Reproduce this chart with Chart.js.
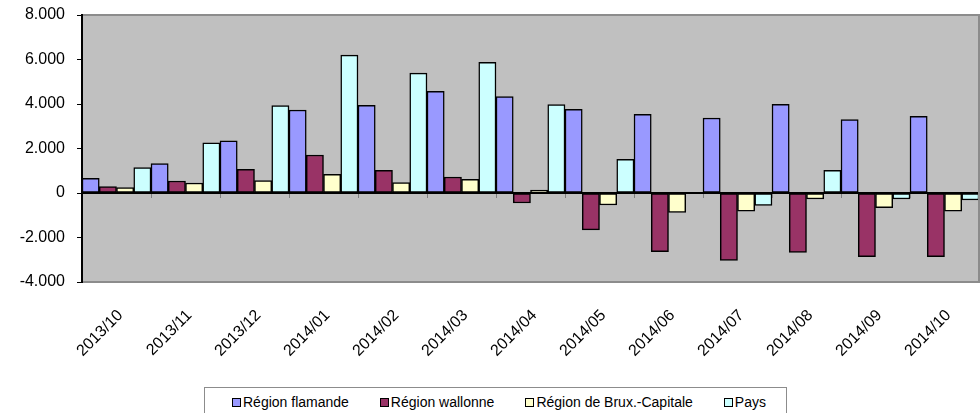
<!DOCTYPE html>
<html>
<head>
<meta charset="utf-8">
<script src="https://cdn.jsdelivr.net/npm/chart.js@4"></script>
<style>
body { margin: 0; width: 980px; height: 413px; overflow: hidden; background: #fff; position: relative; font-family: 'Liberation Sans', Arial, sans-serif; }
#wrap { position: absolute; left: 0; top: 0; width: 980px; height: 386px; }
#legend { position: absolute; left: 204px; top: 387px; width: 583px; height: 30px; border: 1px solid #8c8c8c; box-sizing: border-box;
  display: flex; align-items: center; padding: 0 0 0 27px; font-size: 14px; color: #000; }
#legend .item { display: flex; align-items: center; margin-right: 31px; white-space: nowrap; }
#legend .box { width: 9px; height: 9px; border: 1.5px solid #000; box-sizing: border-box; margin-right: 2px; }
</style>
</head>
<body>
<div id="wrap"><canvas id="balance-chart"></canvas></div>
<div id="legend"></div>
<script>
var months = ['2013/10', '2013/11', '2013/12', '2014/01', '2014/02', '2014/03', '2014/04', '2014/05', '2014/06', '2014/07', '2014/08', '2014/09', '2014/10'];
var flamande = [660, 1320, 2350, 3730, 3940, 4570, 4330, 3760, 3540, 3370, 3990, 3300, 3450];
var wallonne = [283, 540, 1065, 1708, 1020, 719, -450, -1660, -2640, -3030, -2670, -2860, -2860];
var bruxelles = [240, 450, 553, 840, 463, 615, 135, -540, -870, -820, -270, -660, -820];
var pays = [1140, 2260, 3925, 6200, 5390, 5870, 3970, 1510, -20, -555, 1020, -270, -315];
var seriesNames = ['Région flamande', 'Région wallonne', 'Région de Brux.-Capitale', 'Pays'];
var seriesColors = ['#9999ff', '#993366', '#ffffcc', '#ccffff'];

function fmt(v) {
    return String(v).replace(/\B(?=(\d{3})+(?!\d))/g, '.');
}

// grey plot area, frame and the little category ticks on the zero line
var plotArea = {
    id: 'plotArea',
    beforeDatasetsDraw: function(chart) {
        var a = chart.chartArea, c = chart.ctx;
        c.save();
        c.fillStyle = '#c0c0c0';
        c.fillRect(a.left, a.top, a.right - a.left, a.bottom - a.top);
        c.restore();
    },
    afterDatasetsDraw: function(chart) {
        var a = chart.chartArea, c = chart.ctx;
        var x = chart.scales.x, y = chart.scales.y;
        var y0 = y.getPixelForValue(0);
        var step = (a.right - a.left) / months.length;
        c.save();
        c.strokeStyle = '#000';
        c.lineWidth = 2;
        c.beginPath();
        c.moveTo(a.left, y0);
        c.lineTo(a.right, y0);
        c.stroke();
        c.strokeStyle = '#808080';
        c.lineWidth = 1;
        for (var i = 1; i < months.length; i++) {
            var px = Math.round(x.getPixelForValue(i) - step / 2) + 0.5;
            c.beginPath();
            c.moveTo(px, y0 + 1);
            c.lineTo(px, y0 + 5);
            c.stroke();
        }
        c.strokeStyle = '#8c8c8c';
        c.lineWidth = 2;
        c.beginPath();
        c.moveTo(a.left, a.top);
        c.lineTo(a.right, a.top);
        c.lineTo(a.right, a.bottom);
        c.lineTo(a.left, a.bottom);
        c.stroke();
        c.strokeStyle = '#000';
        c.beginPath();
        c.moveTo(a.left, a.top - 1);
        c.lineTo(a.left, a.bottom + 1);
        c.stroke();
        c.restore();
    }
};

var values = [flamande, wallonne, bruxelles, pays];
var datasets = values.map(function(d, i) {
    return {
        label: seriesNames[i],
        data: d,
        backgroundColor: seriesColors[i],
        borderColor: '#000',
        borderWidth: 1.5,
        borderSkipped: false
    };
});

var ctx = document.getElementById('balance-chart').getContext('2d');
var chart = new Chart(ctx, {
    type: 'bar',
    data: { labels: months, datasets: datasets },
    plugins: [plotArea],
    options: {
        responsive: true,
        maintainAspectRatio: false,
        animation: false,
        devicePixelRatio: 1,
        layout: { padding: { top: 15, right: 1, left: 0, bottom: 0 } },
        plugins: { legend: { display: false }, tooltip: { enabled: false } },
        datasets: { bar: { categoryPercentage: 1, barPercentage: 1 } },
        scales: {
            x: {
                grid: { display: false },
                border: { display: false },
                ticks: {
                    minRotation: 45, maxRotation: 45, padding: 16, labelOffset: 4, color: '#000',
                    font: { family: "'Liberation Sans', Arial", size: 16 }
                },
                afterFit: function(s) { s.height = 104; }
            },
            y: {
                min: -4000, max: 8000,
                grid: { color: 'rgba(0,0,0,0)', tickColor: '#000', tickLength: 5, tickWidth: 1 },
                border: { display: false },
                ticks: {
                    stepSize: 2000, padding: 12, color: '#000',
                    font: { family: "'Liberation Sans', Arial", size: 16 },
                    callback: function(v) { return fmt(v); }
                },
                afterFit: function(s) {
                    s.width = 82;
                    s.paddingTop = 8;
                    s.paddingBottom = 8;
                }
            }
        }
    }
});

var legend = document.getElementById('legend');
seriesNames.forEach(function(name, i) {
    var item = document.createElement('span');
    item.className = 'item';
    var box = document.createElement('span');
    box.className = 'box';
    box.style.background = seriesColors[i];
    item.appendChild(box);
    item.appendChild(document.createTextNode(name));
    legend.appendChild(item);
});
</script>
</body>
</html>
